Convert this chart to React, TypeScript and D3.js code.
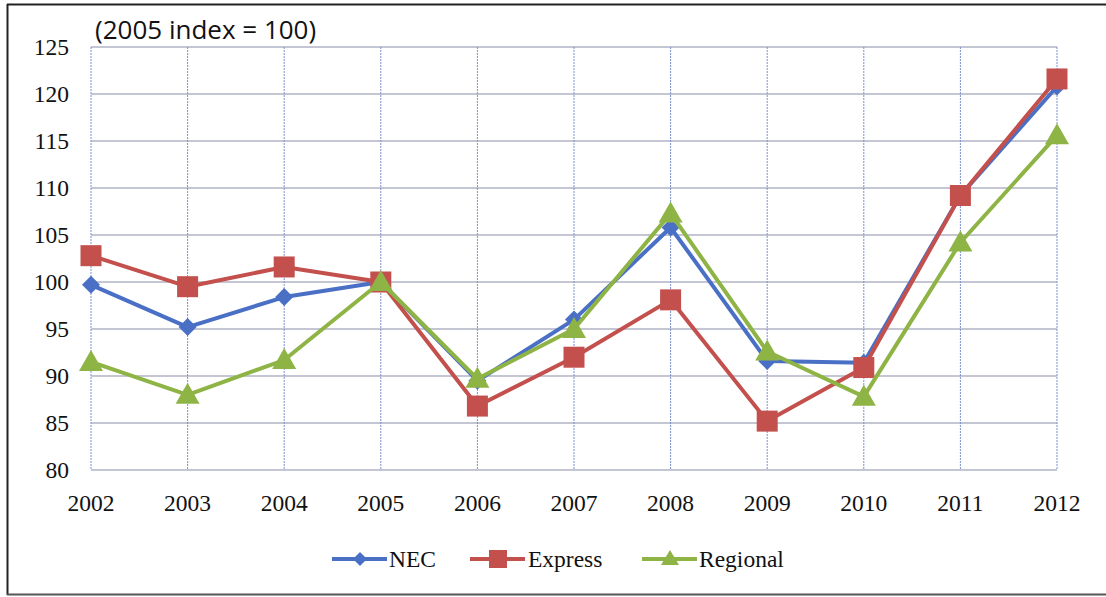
import React from 'react';
import * as d3 from 'd3';

const years = [2002, 2003, 2004, 2005, 2006, 2007, 2008, 2009, 2010, 2011, 2012];
const yTicks = [80, 85, 90, 95, 100, 105, 110, 115, 120, 125];

const necValues = [99.7, 95.2, 98.4, 100, 89.5, 96.0, 105.8, 91.6, 91.4, 109.2, 120.8];
const expressValues = [102.8, 99.5, 101.6, 100, 86.8, 92.0, 98.1, 85.2, 90.9, 109.2, 121.6];
const regionalValues = [91.5, 88.0, 91.7, 100, 89.7, 95.0, 107.3, 92.6, 87.8, 104.2, 115.6];

const seriesNames = ['NEC', 'Express', 'Regional'];

const W = 1106;
const H = 597;
const margin = { top: 47, right: 49, bottom: 127, left: 91 };

const serif = "'Liberation Serif', 'Tinos', 'DejaVu Serif', serif";
const sans = "'Open Sans', 'Liberation Sans', sans-serif";

const Marker = ({ shape, x, y, color }: { shape: string; x: number; y: number; color: string }) => {
  if (shape === 'diamond') {
    const r = 9;
    return <path d={`M${x},${y - r}L${x + r},${y}L${x},${y + r}L${x - r},${y}Z`} fill={color} />;
  }
  if (shape === 'square') {
    const s = 21;
    return <rect x={x - s / 2} y={y - s / 2} width={s} height={s} fill={color} />;
  }
  const s = 12;
  return <path d={`M${x},${y - s}L${x + s},${y + s * 0.75}L${x - s},${y + s * 0.75}Z`} fill={color} />;
};

export default function App() {
  const innerW = W - margin.left - margin.right;
  const innerH = H - margin.top - margin.bottom;

  const x = d3.scalePoint<number>().domain(years).range([margin.left, margin.left + innerW]);
  const y = d3.scaleLinear().domain([80, 125]).range([margin.top + innerH, margin.top]);

  const series = [
    { name: seriesNames[0], values: necValues, color: '#4a70c6', shape: 'diamond' },
    { name: seriesNames[1], values: expressValues, color: '#c3504d', shape: 'square' },
    { name: seriesNames[2], values: regionalValues, color: '#8fb446', shape: 'triangle' },
  ];

  const line = d3
    .line<number>()
    .x((_, i) => x(years[i]) as number)
    .y(d => y(d));

  // legend placement
  const legendY = 559;
  const legendItems = [
    { x0: 332, tx: 389 },
    { x0: 470, tx: 528 },
    { x0: 642, tx: 699 },
  ];

  const serifStyle = { fontFamily: serif, fontSize: 23.5 };

  return (
    <svg width={W} height={H} style={{ position: 'absolute', left: 0, top: 0, background: '#fff' }}>
      {/* outer frame */}
      <line x1={7} x2={W} y1={4.5} y2={4.5} stroke="#222" strokeWidth={2} />
      <line x1={7.5} x2={7.5} y1={4} y2={595} stroke="#222" strokeWidth={2} />
      <line x1={7} x2={W} y1={594.5} y2={594.5} stroke="#555" strokeWidth={2} />

      {/* grid */}
      {yTicks.map(t => (
        <line key={'h' + t} x1={margin.left} x2={margin.left + innerW} y1={y(t)} y2={y(t)} stroke="#8a8fa8" strokeWidth={1.2} />
      ))}
      {years.map(yr => (
        <line
          key={'v' + yr}
          x1={x(yr)}
          x2={x(yr)}
          y1={margin.top}
          y2={margin.top + innerH}
          stroke="#7d8fd0"
          strokeWidth={1}
          strokeDasharray="2 1"
        />
      ))}

      {/* y labels */}
      {yTicks.map(t => (
        <text key={'yl' + t} x={69} y={y(t) + 8} textAnchor="end" style={serifStyle} fill="#111">
          {t}
        </text>
      ))}
      {/* x labels */}
      {years.map(yr => (
        <text key={'xl' + yr} x={x(yr)} y={511} textAnchor="middle" style={serifStyle} fill="#111">
          {yr}
        </text>
      ))}

      <text x={95} y={39} style={{ fontFamily: sans, fontSize: 26 }} fill="#111">
        (2005 index = 100)
      </text>

      {/* series */}
      {series.map(s => (
        <g key={s.name}>
          <path d={line(s.values) || ''} fill="none" stroke={s.color} strokeWidth={4} strokeLinejoin="round" />
          {s.values.map((v, i) => (
            <Marker key={i} shape={s.shape} x={x(years[i]) as number} y={y(v)} color={s.color} />
          ))}
        </g>
      ))}

      {/* legend */}
      {series.map((s, i) => {
        const it = legendItems[i];
        const cx = it.x0 + 28;
        return (
          <g key={'lg' + s.name}>
            <line x1={it.x0} x2={it.x0 + 55} y1={legendY} y2={legendY} stroke={s.color} strokeWidth={4} />
            {s.shape === 'diamond' && (
              <path d={`M${cx},${legendY - 7}L${cx + 7},${legendY}L${cx},${legendY + 7}L${cx - 7},${legendY}Z`} fill={s.color} />
            )}
            {s.shape === 'square' && <rect x={cx - 9} y={legendY - 9} width={18} height={18} fill={s.color} />}
            {s.shape === 'triangle' && (
              <path d={`M${cx},${legendY - 9}L${cx + 9},${legendY + 6}L${cx - 9},${legendY + 6}Z`} fill={s.color} />
            )}
            <text x={it.tx} y={legendY + 8} style={serifStyle} fill="#111">
              {s.name}
            </text>
          </g>
        );
      })}
    </svg>
  );
}
